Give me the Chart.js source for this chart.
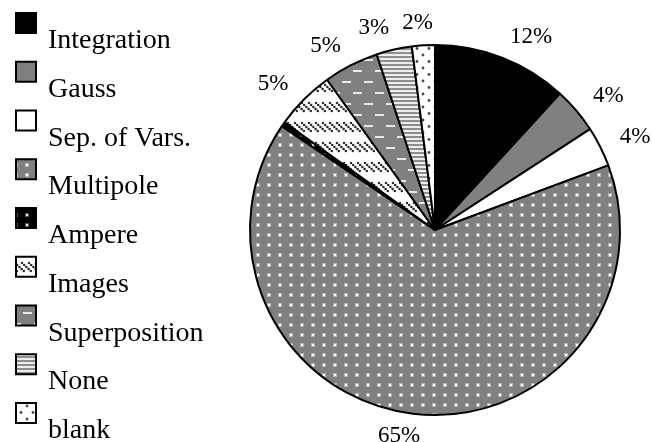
<!DOCTYPE html>
<html>
<head>
<meta charset="utf-8">
<script src="https://cdn.jsdelivr.net/npm/chart.js@4/dist/chart.umd.min.js"></script>
<style>
  html, body { margin: 0; padding: 0; background: #ffffff; }
  #wrap { width: 652px; height: 442px; }
</style>
</head>
<body>
<div id="wrap"><canvas id="c" width="652" height="442"></canvas></div>
<script>
// ---- data ----
const categories = ["Integration", "Gauss", "Sep. of Vars.", "Multipole", "Ampere", "Images", "Superposition", "None", "blank"];
const shares = [11.8, 4.0, 3.5, 65.1, 0.4, 5.2, 4.8, 3.1, 2.0];
const fillKinds = ["black", "gray", "white", "grayDots", "blackDots", "diagDash", "grayDash", "hStripes", "whiteDots"];

// ---- pattern helpers ----
function tile(w, h, draw) {
  const c = document.createElement('canvas');
  c.width = w; c.height = h;
  const g = c.getContext('2d');
  draw(g, w, h);
  return g.createPattern(c, 'repeat');
}
function softDot(g, x, y, core, halo) {
  g.fillStyle = halo; g.fillRect(x - 1, y - 1, 4, 4);
  g.fillStyle = core; g.fillRect(x, y, 2, 2);
}
function makeFill(kind) {
  switch (kind) {
    case "black": return "#000000";
    case "gray": return "#808080";
    case "white": return "#ffffff";
    case "grayDots": return tile(11, 10, (g, w, h) => {
      g.fillStyle = "#808080"; g.fillRect(0, 0, w, h);
      softDot(g, 4, 4, "#ffffff", "#b4b4b4");
    });
    case "blackDots": return tile(11, 10, (g, w, h) => {
      g.fillStyle = "#000000"; g.fillRect(0, 0, w, h);
      softDot(g, 4, 4, "#eeeeee", "#555555");
    });
    case "diagDash": return tile(7, 20, (g, w, h) => {
      g.fillStyle = "#ffffff"; g.fillRect(0, 0, w, h);
      g.fillStyle = "#2a2a2a";
      for (let k = 0; k < 5; k++) {
        const px = 1 + k * 2.2, py = 3 + k * 2;
        for (const off of [-w, 0, w]) {
          g.beginPath(); g.arc(px + off, py, 1.25, 0, Math.PI * 2); g.fill();
        }
      }
    });
    case "grayDash": return tile(22, 22, (g, w, h) => {
      g.fillStyle = "#808080"; g.fillRect(0, 0, w, h);
      g.fillStyle = "#e8e8e8";
      g.fillRect(1, 4, 9, 2);
      g.fillRect(12, 15, 9, 2);
    });
    case "hStripes": return tile(4, 4, (g, w, h) => {
      g.fillStyle = "#eeeeee"; g.fillRect(0, 0, w, h);
      g.fillStyle = "#8e8e8e"; g.fillRect(0, 0, w, 2);
    });
    case "whiteDots": return tile(12, 13, (g, w, h) => {
      g.fillStyle = "#ffffff"; g.fillRect(0, 0, w, h);
      g.fillStyle = "#4a4a4a";
      g.beginPath(); g.arc(3, 3, 1.4, 0, Math.PI * 2); g.fill();
      g.beginPath(); g.arc(9, 9.5, 1.4, 0, Math.PI * 2); g.fill();
    });
  }
}
const fills = fillKinds.map(makeFill);

// ---- custom legend (boxes above-left of the text) ----
const legendPlugin = {
  id: 'stackedLegend',
  afterDraw(chart) {
    const ctx = chart.ctx;
    const ds = chart.data.datasets[0];
    ctx.save();
    ctx.font = '28px "Liberation Serif", "Times New Roman", serif';
    ctx.textAlign = 'left';
    ctx.textBaseline = 'alphabetic';
    chart.data.labels.forEach((lab, i) => {
      const top = 12 + i * 48.75;
      ctx.fillStyle = ds.backgroundColor[i];
      ctx.fillRect(16, top + 1, 20, 20);
      ctx.lineWidth = 2;
      ctx.strokeStyle = '#000';
      ctx.strokeRect(16, top + 1, 20, 20);
      ctx.fillStyle = '#000';
      ctx.fillText(lab, 48, top + 36);
    });
    ctx.restore();
  }
};

// ---- percent labels outside the pie ----
const pctPlugin = {
  id: 'pctLabels',
  afterDatasetsDraw(chart) {
    const ctx = chart.ctx;
    const meta = chart.getDatasetMeta(0);
    const vals = chart.data.datasets[0].data;
    const total = vals.reduce((a, b) => a + b, 0);
    ctx.save();
    ctx.font = '23px "Liberation Serif", "Times New Roman", serif';
    ctx.fillStyle = '#000';
    ctx.textBaseline = 'middle';
    ctx.textAlign = 'center';
    meta.data.forEach((arc, i) => {
      const pct = vals[i] / total * 100;
      if (pct < 1) return;
      const p = arc.getProps(['startAngle', 'endAngle', 'outerRadius', 'x', 'y'], true);
      const mid = (p.startAngle + p.endAngle) / 2;
      const r = p.outerRadius + 22;
      const ax = p.x + r * Math.cos(mid);
      const ay = p.y + r * Math.sin(mid);
      const txt = Math.round(pct) + '%';
      const w = ctx.measureText(txt).width;
      const f = Math.max(-1, Math.min(1, Math.cos(mid) * 4.5));
      ctx.fillText(txt, ax + f * w / 2, ay);
    });
    ctx.restore();
  }
};

new Chart(document.getElementById('c'), {
  type: 'pie',
  data: {
    labels: categories,
    datasets: [{
      data: shares,
      backgroundColor: fills,
      borderColor: '#000000',
      borderWidth: 2,
      clip: false
    }]
  },
  options: {
    responsive: false,
    animation: false,
    devicePixelRatio: 1,
    events: [],
    radius: 185,
    layout: { padding: { left: 218, right: 0, top: 18, bottom: 0 } },
    plugins: {
      legend: { display: false },
      tooltip: { enabled: false },
      title: { display: false }
    }
  },
  plugins: [legendPlugin, pctPlugin]
});
</script>
</body>
</html>
